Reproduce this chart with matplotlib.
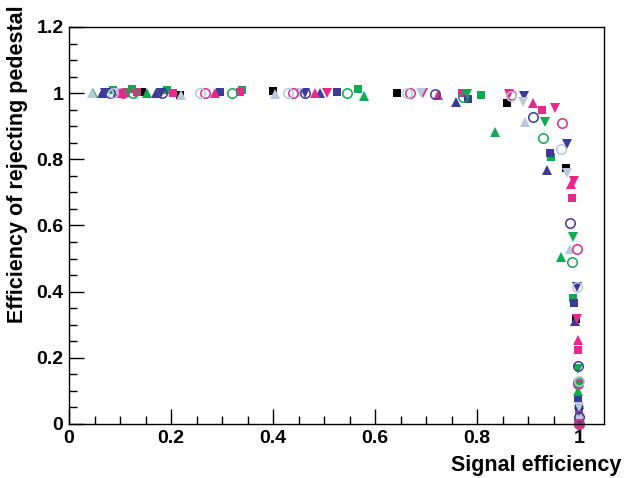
import matplotlib
matplotlib.use('Agg')
import matplotlib.pyplot as plt
from matplotlib.ticker import MultipleLocator

plt.rcParams['font.family'] = ['Liberation Sans', 'DejaVu Sans']

BLACK = '#000000'
GREEN = '#10aa50'
PINK = '#e8288c'
BLUE = '#3d3a98'
LBLUE = '#b8c8de'

# filled squares
black_sq_x = [0.143, 0.218, 0.400, 0.643, 0.858, 0.975, 0.994, 1.0, 1.0]
black_sq_y = [1.003, 0.995, 1.006, 1.0, 0.970, 0.774, 0.317, 0.05, 0.0]
green_sq_x = [0.086, 0.123, 0.192, 0.339, 0.567, 0.807, 0.945, 0.988, 0.999, 1.0]
green_sq_y = [1.010, 1.012, 1.010, 1.010, 1.012, 0.995, 0.807, 0.381, 0.12, 0.0]
pink_sq_x = [0.11, 0.133, 0.204, 0.336, 0.770, 0.927, 0.986, 0.998, 1.0, 1.0]
pink_sq_y = [1.0, 1.005, 1.002, 1.003, 1.0, 0.949, 0.683, 0.224, 0.03, 0.0]
blue_sq_x = [0.095, 0.296, 0.525, 0.783, 0.943, 0.990, 0.998, 1.0]
blue_sq_y = [1.0, 1.005, 1.003, 0.983, 0.819, 0.366, 0.079, 0.01]

# triangles up
blue_tu_x = [0.065, 0.170, 0.492, 0.759, 0.937, 0.992, 1.0]
blue_tu_y = [1.0, 1.0, 1.0, 0.973, 0.768, 0.310, 0.06]
green_tu_x = [0.047, 0.153, 0.578, 0.835, 0.965, 0.999]
green_tu_y = [1.0, 1.0, 0.991, 0.883, 0.505, 0.10]
pink_tu_x = [0.10, 0.286, 0.482, 0.724, 0.910, 0.984, 0.998, 1.0]
pink_tu_y = [1.0, 1.0, 1.0, 0.995, 0.970, 0.726, 0.254, 0.02]
lb_tu_x = [0.045, 0.22, 0.404, 0.894, 0.982, 1.0]
lb_tu_y = [1.0, 0.995, 0.998, 0.913, 0.529, 0.03]

# triangles down
blue_td_x = [0.071, 0.180, 0.463, 0.892, 0.976, 0.996, 1.0]
blue_td_y = [1.0, 1.0, 1.0, 0.99, 0.846, 0.414, 0.04]
green_td_x = [0.115, 0.780, 0.933, 0.988, 0.998, 1.0]
green_td_y = [1.0, 0.998, 0.913, 0.565, 0.166, 0.0]
pink_td_x = [0.13, 0.506, 0.694, 0.863, 0.953, 0.990, 0.996, 1.0]
pink_td_y = [1.0, 1.0, 1.0, 0.998, 0.955, 0.735, 0.317, 0.0]
lb_td_x = [0.09, 0.45, 0.690, 0.890, 0.976, 1.0]
lb_td_y = [1.0, 1.0, 1.0, 0.973, 0.759, 0.05]

# open circles
blue_oc_x = [0.08, 0.183, 0.463, 0.718, 0.910, 0.982, 0.998, 1.0]
blue_oc_y = [1.0, 1.0, 1.0, 0.998, 0.928, 0.608, 0.175, 0.02]
green_oc_x = [0.125, 0.32, 0.545, 0.773, 0.929, 0.986, 0.998, 1.0]
green_oc_y = [1.0, 1.0, 1.0, 0.989, 0.865, 0.490, 0.127, 0.0]
pink_oc_x = [0.105, 0.267, 0.44, 0.669, 0.867, 0.967, 0.996, 0.998, 1.0]
pink_oc_y = [1.0, 1.0, 1.0, 1.0, 0.995, 0.910, 0.529, 0.12, 0.0]
lb_oc_x = [0.087, 0.257, 0.43, 0.663, 0.867, 0.965, 0.996, 1.0]
lb_oc_y = [1.0, 1.0, 1.0, 1.0, 0.99, 0.831, 0.414, 0.13]

fig = plt.figure(figsize=(6.24, 4.78), dpi=100)
ax = fig.add_axes([69 / 624, 54 / 478, 535 / 624, 397 / 478])

filled = [
    (black_sq_x, black_sq_y, 's', BLACK),
    (green_sq_x, green_sq_y, 's', GREEN),
    (pink_sq_x, pink_sq_y, 's', PINK),
    (blue_sq_x, blue_sq_y, 's', BLUE),
    (blue_tu_x, blue_tu_y, '^', BLUE),
    (green_tu_x, green_tu_y, '^', GREEN),
    (pink_tu_x, pink_tu_y, '^', PINK),
    (lb_tu_x, lb_tu_y, '^', LBLUE),
    (blue_td_x, blue_td_y, 'v', BLUE),
    (green_td_x, green_td_y, 'v', GREEN),
    (pink_td_x, pink_td_y, 'v', PINK),
    (lb_td_x, lb_td_y, 'v', LBLUE),
]
for xs, ys, m, c in filled:
    size = 6.3 if m == 's' else 7.3
    ax.plot(xs, ys, linestyle='none', marker=m, color=c, markersize=size,
            markeredgewidth=0, clip_on=False)

hollow = [
    (blue_oc_x, blue_oc_y, BLUE),
    (green_oc_x, green_oc_y, GREEN),
    (pink_oc_x, pink_oc_y, PINK),
    (lb_oc_x, lb_oc_y, LBLUE),
]
for xs, ys, c in hollow:
    ax.plot(xs, ys, linestyle='none', marker='o', markerfacecolor='none',
            markeredgecolor=c, markersize=6.8, markeredgewidth=1.1, clip_on=False)

ax.set_xlim(0, 1.049)
ax.set_ylim(0, 1.2)
ax.xaxis.set_major_locator(MultipleLocator(0.2))
ax.xaxis.set_minor_locator(MultipleLocator(0.05))
ax.yaxis.set_major_locator(MultipleLocator(0.2))
ax.yaxis.set_minor_locator(MultipleLocator(0.05))
ax.tick_params(which='both', direction='in', top=False, right=False, width=1)
ax.tick_params(which='major', length=11, labelsize=14, pad=4)
ax.tick_params(which='minor', length=6)
ax.xaxis.set_major_formatter(plt.FuncFormatter(lambda v, p: ('%g' % round(v, 2))))
ax.yaxis.set_major_formatter(plt.FuncFormatter(lambda v, p: ('%g' % round(v, 2))))
for lab in ax.get_xticklabels() + ax.get_yticklabels():
    lab.set_fontweight('bold')
for s in ax.spines.values():
    s.set_linewidth(1)

fig.text(621 / 624, 1 - 465 / 478, 'Signal efficiency', ha='right', va='center',
         fontsize=15.5, fontweight='bold')
fig.text(18 / 624, 1 - 5 / 478, 'Efficiency of rejecting pedestal', ha='center',
         va='top', rotation=90, fontsize=15.5, fontweight='bold')

fig.savefig('out.png', dpi=100)
